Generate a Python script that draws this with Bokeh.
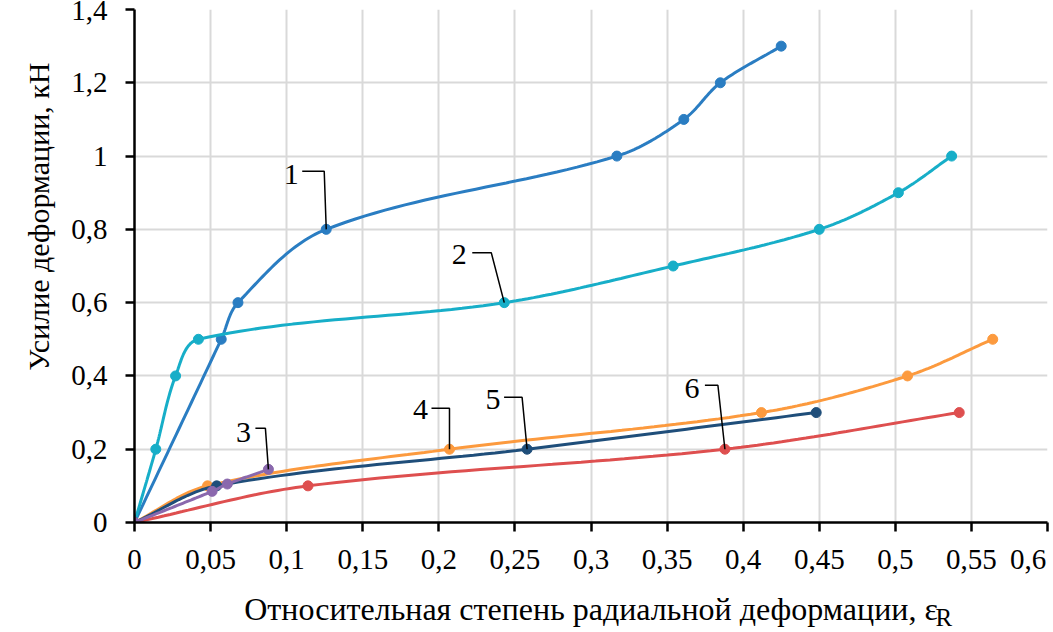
import numpy as np
from bokeh.plotting import figure
from bokeh.models import FixedTicker, Range1d, Title
from bokeh.core.properties import value
from bokeh.embed import file_html
from bokeh.resources import INLINE

# Deformation force (kN) versus relative radial strain for six specimens
curve1_eps = [0, 0.057, 0.068, 0.126, 0.317, 0.361, 0.385, 0.425]
curve1_force = [0, 0.5, 0.6, 0.8, 1.0, 1.1, 1.2, 1.3]
curve2_eps = [0, 0.014, 0.027, 0.042, 0.243, 0.354, 0.450, 0.502, 0.537]
curve2_force = [0, 0.2, 0.4, 0.5, 0.6, 0.7, 0.8, 0.9, 1.0]
curve3_eps = [0, 0.051, 0.061, 0.088]
curve3_force = [0, 0.085, 0.105, 0.145]
curve4_eps = [0, 0.048, 0.207, 0.412, 0.508, 0.564]
curve4_force = [0, 0.1, 0.2, 0.3, 0.4, 0.5]
curve5_eps = [0, 0.054, 0.258, 0.448]
curve5_force = [0, 0.1, 0.2, 0.3]
curve6_eps = [0, 0.114, 0.388, 0.542]
curve6_force = [0, 0.1, 0.2, 0.3]

curve_names = ["1", "2", "3", "4", "5", "6"]
labelled_point = [3, 4, 3, 2, 2, 2]   # index of the point each number points at

x_ticks = [0, 0.05, 0.1, 0.15, 0.2, 0.25, 0.3, 0.35, 0.4, 0.45, 0.5, 0.55, 0.6]
x_tick_labels = ["0", "0,05", "0,1", "0,15", "0,2", "0,25", "0,3", "0,35",
                 "0,4", "0,45", "0,5", "0,55", "0,6"]
y_ticks = [0, 0.2, 0.4, 0.6, 0.8, 1.0, 1.2, 1.4]
y_tick_labels = ["0", "0,2", "0,4", "0,6", "0,8", "1", "1,2", "1,4"]

x_title = "Относительная степень радиальной деформации, ε"
x_title_sub = "R"
y_title = "Усилие деформации, кН"

# ---- layout -------------------------------------------------------------
X_MIN, X_MAX = 0.0, 0.6
Y_MIN, Y_MAX = 0.0, 1.4
FRAME_W, FRAME_H = 913, 513
BORDER_L, BORDER_T = 134, 9
BORDER_R = 1053 - BORDER_L - FRAME_W
BORDER_B = 632 - BORDER_T - FRAME_H
XS = FRAME_W / (X_MAX - X_MIN)      # pixels per unit of strain
YS = FRAME_H / (Y_MAX - Y_MIN)      # pixels per kN

SERIF = "Liberation Serif"
colors = ["#2A7DC2", "#17AEC8", "#8A68AD", "#FC9A3E", "#1F4E7A", "#DE4F4F"]
draw_order = [0, 1, 5, 3, 4, 2]

# number label offsets from the marked point (pixels, y down) and leader knees
label_offsets = [(-35, -55), (-45, -48), (-25, -37), (-29, -40), (-34, -50), (-33, -61)]
leader_knees = [
    [(-24, -58), (-2, -58)],
    [(-32, -50), (-13, -50)],
    [(-13, -41), (-3, -41)],
    [(-18, -41), (0, -41)],
    [(-23, -52), (-5, -52)],
    [(-20, -64), (-7, -64)],
]


def smooth(xs, ys, n=30):
    """Bezier smoothing through the points, computed in screen proportions."""
    P = np.column_stack([np.asarray(xs, float) * XS, np.asarray(ys, float) * YS])
    m = len(P)
    out = [P[0]]
    t = np.linspace(0, 1, n)[1:, None]
    for i in range(m - 1):
        p0, p1 = P[i], P[i + 1]
        prev = P[i - 1] if i > 0 else P[i]
        nxt = P[i + 2] if i + 2 < m else P[i + 1]
        chord = np.linalg.norm(p1 - p0)
        d0 = p1 - prev
        d0 = d0 / np.linalg.norm(d0)
        d1 = nxt - p0
        d1 = d1 / np.linalg.norm(d1)
        c0 = p0 + d0 * chord / 3
        c1 = p1 - d1 * chord / 3
        seg = ((1 - t) ** 3) * p0 + 3 * ((1 - t) ** 2) * t * c0 + 3 * (1 - t) * t ** 2 * c1 + t ** 3 * p1
        out.extend(seg)
    arr = np.array(out)
    return arr[:, 0] / XS, arr[:, 1] / YS


series = [
    (curve1_eps, curve1_force),
    (curve2_eps, curve2_force),
    (curve3_eps, curve3_force),
    (curve4_eps, curve4_force),
    (curve5_eps, curve5_force),
    (curve6_eps, curve6_force),
]

p = figure(
    frame_width=FRAME_W, frame_height=FRAME_H,
    x_range=Range1d(X_MIN, X_MAX), y_range=Range1d(Y_MIN, Y_MAX),
    output_backend="svg", toolbar_location=None,
    min_border_left=BORDER_L, min_border_right=BORDER_R,
    min_border_top=BORDER_T, min_border_bottom=BORDER_B,
    background_fill_color="white", border_fill_color="white",
)
p.outline_line_color = None

# grid
p.xgrid.ticker = FixedTicker(ticks=x_ticks)
p.ygrid.ticker = FixedTicker(ticks=y_ticks)
for g in (p.xgrid, p.ygrid):
    g.grid_line_color = "#D9D9D9"
    g.grid_line_width = 2

# axes
p.xaxis.ticker = FixedTicker(ticks=x_ticks)
p.yaxis.ticker = FixedTicker(ticks=y_ticks)
x_over = dict(zip(x_ticks, x_tick_labels))
# the last label sits at the canvas edge: pad it so it is drawn left of its tick
x_over[x_ticks[-1]] = x_tick_labels[-1] + "\u00a0"
p.xaxis.major_label_overrides = x_over
p.yaxis.major_label_overrides = dict(zip(y_ticks, y_tick_labels))
for ax in (p.xaxis, p.yaxis):
    ax.axis_line_color = "black"
    ax.axis_line_width = 2.5
    ax.major_tick_line_color = "black"
    ax.major_tick_line_width = 2.5
    ax.major_tick_in = 0
    ax.major_tick_out = 9
    ax.minor_tick_line_color = None
    ax.major_label_text_font = SERIF
    ax.major_label_text_color = "black"
p.xaxis.major_label_text_font_size = "29px"
p.yaxis.major_label_text_font_size = "29px"
p.xaxis.major_label_standoff = 11
p.yaxis.major_label_standoff = 18

p.xaxis.axis_label = x_title
p.xaxis.axis_label_text_font = SERIF
p.xaxis.axis_label_text_font_size = "32px"
p.xaxis.axis_label_text_font_style = "normal"
p.xaxis.axis_label_text_color = "black"
p.xaxis.axis_label_standoff = 13

# subscript of the strain symbol, set just after the x-axis title
p.add_layout(Title(text=x_title_sub, align="left", offset=801, standoff=-52,
                   vertical_align="top",
                   text_font=SERIF, text_font_size="25px", text_font_style="normal",
                   text_color="black"), "below")

# y-axis title, set a little above the frame centre
p.add_layout(Title(text=y_title, align="right", offset=53, standoff=28,
                   text_font=SERIF, text_font_size="30px", text_font_style="normal",
                   text_color="black"), "left")

# curves and markers
for i in draw_order:
    xs, ys = series[i]
    sx, sy = smooth(xs, ys)
    p.line(sx, sy, line_color=colors[i], line_width=3)
    p.scatter(xs, ys, size=10, fill_color=colors[i], line_color=colors[i])

# numbered leader labels
lead_xs, lead_ys = [], []
tx, ty, txo, tyo = [], [], [], []
for i, (xs, ys) in enumerate(series):
    k = labelled_point[i]
    px, py = xs[k], ys[k]
    pts = leader_knees[i] + [(0, 0)]
    lead_xs.append([px + dx / XS for dx, dy in pts])
    lead_ys.append([py - dy / YS for dx, dy in pts])
    tx.append(px)
    ty.append(py)
    txo.append(label_offsets[i][0])
    tyo.append(label_offsets[i][1])
p.multi_line(lead_xs, lead_ys, line_color="black", line_width=1.5)
p.text(x=tx, y=ty, text=curve_names, x_offset=txo, y_offset=tyo,
       text_font=value(SERIF), text_font_size="30px", text_color="black",
       text_align="center", text_baseline="middle")

open("out.html", "w").write(file_html(p, INLINE))
